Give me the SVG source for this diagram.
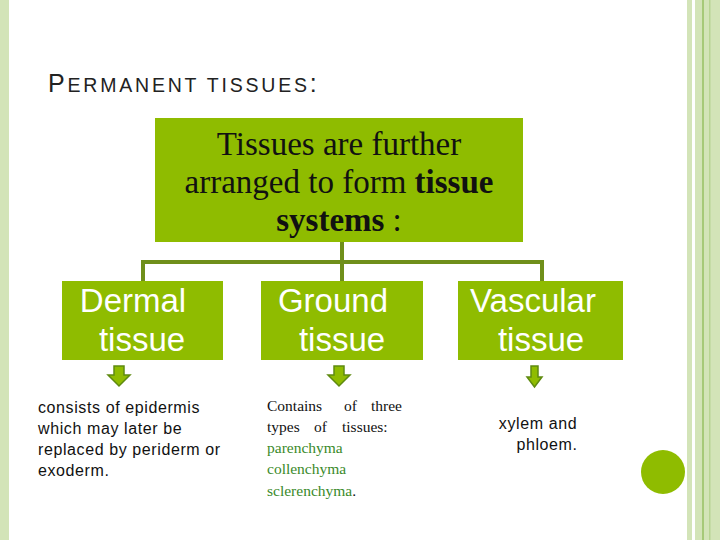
<svg xmlns="http://www.w3.org/2000/svg" width="720" height="540" viewBox="0 0 720 540">
<style>
.box{fill:#8fbc00}
.w{fill:#fff;font-family:"Liberation Sans",Arial,sans-serif;font-size:33px}
.s{font-family:"Liberation Sans",Arial,sans-serif;font-size:16px;letter-spacing:0.6px;fill:#111}
.t{font-family:"Liberation Serif","Times New Roman",serif;font-size:15.5px;fill:#111}
.g{fill:#3a8a2a}
.con{stroke:#6f8f1a;stroke-width:4;fill:none}
.arr{fill:#8fbc00;stroke:#5f8a10;stroke-width:1.5}
</style>
<rect width="720" height="540" fill="#fff"/>
<rect x="0" y="0" width="9" height="540" fill="#d3e4b8"/>
<rect x="687" y="0" width="5" height="540" fill="#d3e4b8"/>
<rect x="695" y="0" width="25" height="540" fill="#d3e4b8"/>
<rect x="702" y="0" width="2" height="540" fill="#a6c978"/>
<rect x="709" y="0" width="1.5" height="540" fill="#b8d493"/>
<text x="48" y="92" font-family="Liberation Sans,Arial,sans-serif" font-size="25" fill="#222" letter-spacing="2.8">P<tspan font-size="19.5">ERMANENT TISSUES</tspan>:</text>
<g id="root"><rect class="box" x="155" y="118" width="368" height="124"/>
<text font-family="Liberation Serif,Times New Roman,serif" font-size="33" fill="#111" text-anchor="middle"><tspan x="339" y="155">Tissues are further</tspan><tspan x="339" y="193">arranged to form <tspan font-weight="bold">tissue</tspan></tspan><tspan x="339" y="231"><tspan font-weight="bold">systems</tspan> :</tspan></text></g>
<g id="connectors">
<path class="con" d="M342 242V282M143 262H542M143 260V282M542 260V282"/>
<path class="arr" d="M114 366h10v9h6l-11 11-11-11h6z"/>
<path class="arr" d="M334 366h10v9h6l-11 11-11-11h6z"/>
<path class="arr" d="M531 366h7v11h4l-7.5 10-7.5-10h4z"/>
</g>
<g id="dermal"><rect class="box" x="62" y="281" width="161" height="79"/>
<text class="w" text-anchor="middle"><tspan x="133" y="312">Dermal</tspan><tspan x="142" y="351">tissue</tspan></text>
<text class="s"><tspan x="38" y="413">consists of epidermis</tspan><tspan x="38" y="434">which may later be</tspan><tspan x="38" y="455">replaced by periderm or</tspan><tspan x="38" y="476">exoderm.</tspan></text></g>
<g id="ground"><rect class="box" x="261" y="281" width="162" height="79"/>
<text class="w" text-anchor="middle"><tspan x="333" y="312">Ground</tspan><tspan x="342" y="351">tissue</tspan></text>
<text class="t"><tspan x="267" y="411">Contains</tspan><tspan x="344" y="411">of</tspan><tspan x="371" y="411">three</tspan><tspan x="267" y="432">types</tspan><tspan x="314" y="432">of</tspan><tspan x="342" y="432">tissues:</tspan><tspan x="267" y="453" class="g">parenchyma</tspan><tspan x="267" y="474" class="g">collenchyma</tspan><tspan x="267" y="496"><tspan class="g">sclerenchyma</tspan>.</tspan></text></g>
<g id="vascular"><rect class="box" x="458" y="281" width="165" height="79"/>
<text class="w" text-anchor="middle"><tspan x="533" y="312">Vascular</tspan><tspan x="541" y="351">tissue</tspan></text>
<text class="s" text-anchor="middle"><tspan x="538" y="429">xylem and</tspan><tspan x="547" y="450">phloem.</tspan></text></g>
<circle cx="663" cy="472" r="22" fill="#8fbc00"/>
</svg>
